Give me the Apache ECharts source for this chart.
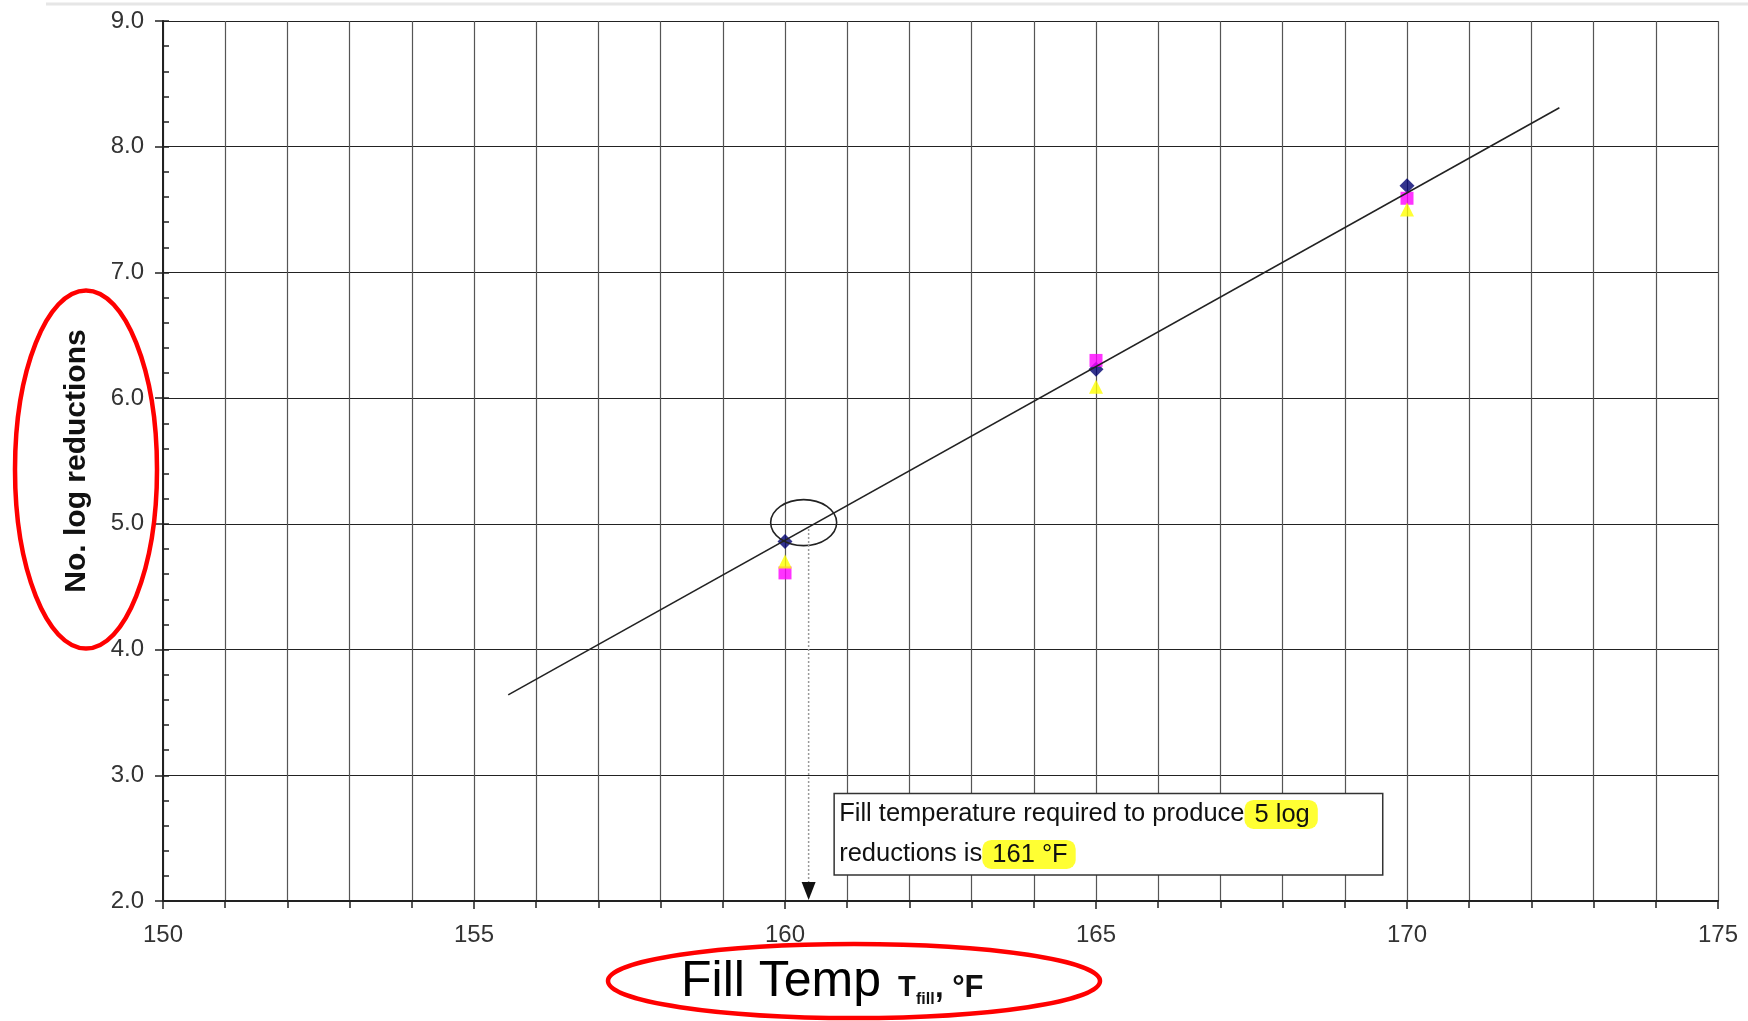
<!DOCTYPE html>
<html><head><meta charset="utf-8">
<script src="https://cdn.jsdelivr.net/npm/echarts@6/dist/echarts.min.js"></script>
<style>html,body{margin:0;padding:0;background:#fff}#c{width:1748px;height:1021px}</style>
</head><body><div id="c"></div>
<script>
// ---- data ----
const temperatures = [160, 165, 170];
const seriesDiamond = [4.86, 6.23, 7.69];
const seriesSquare = [4.61, 6.30, 7.59];
const seriesTriangle = [4.70, 6.09, 7.50];
const trendX = [155.55, 172.45];
const trendY = [3.64, 8.31];
const xTickValues = [150, 155, 160, 165, 170, 175];
const yTickValues = [2, 3, 4, 5, 6, 7, 8, 9];
const targetLog = 5.0;
const fillTempAtTarget = 160.38;
const calloutBox = [160.79, 169.61, 2.856, 2.206]; // x0, x1, yTop, yBottom (data units)
const calloutLine1 = 'Fill temperature required to produce';
const calloutHL1 = '5 log';
const calloutLine2 = 'reductions is';
const calloutHL2 = '161 °F';
const yTitle = 'No. log reductions';
const xTitleMain = 'Fill Temp';
const xTitleSym = 'T';
const xTitleSub = 'fill';
const xTitleUnit = ', °F';

const FONT = '"Liberation Sans", Arial, sans-serif';
const chart = echarts.init(document.getElementById('c'), null, {renderer: 'canvas'});

const pairs = arr => temperatures.map((t, i) => [t, arr[i]]);

chart.setOption({
  animation: false,
  backgroundColor: '#fff',
  grid: {left: 163, top: 21, right: 30, bottom: 120, containLabel: false},
  xAxis: {
    type: 'value', min: xTickValues[0], max: xTickValues[xTickValues.length - 1], interval: 5,
    axisLine: {show: true, onZero: false, lineStyle: {color: '#222', width: 2}},
    axisTick: {show: true, length: 8, lineStyle: {color: '#222', width: 1.5}},
    minorTick: {show: true, splitNumber: 5, length: 7, lineStyle: {color: '#222', width: 1.5}},
    axisLabel: {fontSize: 24, color: '#333', margin: 22, fontFamily: FONT},
    splitLine: {show: true, lineStyle: {color: '#555', width: 1.2}},
    minorSplitLine: {show: true, lineStyle: {color: '#555', width: 1.2}}
  },
  yAxis: [{
    type: 'value', min: yTickValues[0], max: yTickValues[yTickValues.length - 1], interval: 1,
    position: 'left',
    axisLine: {show: true, lineStyle: {color: '#222', width: 2}},
    axisTick: {show: true, inside: true, length: 6, lineStyle: {color: '#222', width: 1.5}},
    minorTick: {show: true, splitNumber: 5, length: 6, lineStyle: {color: '#222', width: 1.5}},
    axisLabel: {formatter: v => v.toFixed(1), fontSize: 24, color: '#333', margin: 19, fontFamily: FONT},
    splitLine: {show: true, lineStyle: {color: '#222', width: 1.2}},
    name: yTitle, nameLocation: 'middle', nameGap: 71,
    nameTextStyle: {fontSize: 30, fontWeight: 'bold', color: '#111', fontFamily: FONT}
  }, {
    type: 'value', min: yTickValues[0], max: yTickValues[yTickValues.length - 1], interval: 1,
    position: 'left', offset: 0,
    axisLine: {show: false},
    axisTick: {show: true, inside: false, length: 8, lineStyle: {color: '#222', width: 1.5}},
    axisLabel: {show: false}, splitLine: {show: false}
  }],
  series: [
    {type: 'scatter', name: 'A', data: pairs(seriesDiamond), symbol: 'diamond', symbolSize: 15,
     itemStyle: {color: '#000070'}, z: 3},
    {type: 'scatter', name: 'B', data: pairs(seriesSquare), symbol: 'rect', symbolSize: 13,
     itemStyle: {color: '#ff00ff'}, z: 4},
    {type: 'scatter', name: 'C', data: pairs(seriesTriangle), symbol: 'triangle', symbolSize: 14,
     itemStyle: {color: '#ffff00'}, z: 5},
    {type: 'line', name: 'trend', data: trendX.map((x, i) => [x, trendY[i]]), showSymbol: false,
     symbol: 'none', lineStyle: {color: '#222', width: 1.6}, z: 6}
  ]
});

const P = (x, y) => chart.convertToPixel({gridIndex: 0}, [x, y]);
const ell = P(160.3, targetLog + 0.01);
const dTop = P(fillTempAtTarget, targetLog - 0.04);
const dBot = P(fillTempAtTarget, yTickValues[0]);
const b0 = P(calloutBox[0], calloutBox[2]);
const b1 = P(calloutBox[1], calloutBox[3]);
const hl = {backgroundColor: '#ffff33', borderRadius: 9, padding: [2, 8, 1, 10],
            fontSize: 25.5, fontFamily: FONT, color: '#111'};

chart.setOption({
  graphic: [
    {type: 'line', shape: {x1: 46, y1: 4, x2: 1748, y2: 4}, style: {stroke: '#e6e6e6', lineWidth: 3}, z: 10},
    {type: 'ellipse', shape: {cx: ell[0], cy: ell[1], rx: 33, ry: 23},
     style: {fill: null, stroke: '#222', lineWidth: 1.6}, z: 20},
    {type: 'line', shape: {x1: dTop[0], y1: dTop[1], x2: dBot[0], y2: dBot[1] - 18},
     style: {stroke: '#999', lineWidth: 1.5, lineDash: [2, 2]}, z: 20},
    {type: 'polygon', shape: {points: [[dBot[0] - 7, dBot[1] - 19], [dBot[0] + 7, dBot[1] - 19], [dBot[0], dBot[1] - 1]]},
     style: {fill: '#111'}, z: 21},
    {type: 'rect', shape: {x: b0[0], y: b0[1], width: b1[0] - b0[0], height: b1[1] - b0[1]},
     style: {fill: '#fff', stroke: '#333', lineWidth: 1.5}, z: 20},
    {type: 'text', x: b0[0] + 5, y: b0[1] + 1, z: 21,
     style: {
       text: calloutLine1 + '{hl|' + calloutHL1 + '}\n' + calloutLine2 + '{hl|' + calloutHL2 + '}',
       fontSize: 25.5, fontFamily: FONT, fill: '#111', lineHeight: 40, verticalAlign: 'top', align: 'left',
       rich: {hl: hl}
     }},
    // x-axis title
    {type: 'text', x: 681, y: 982.7, z: 21,
     style: {text: xTitleMain, fontSize: 50, fontFamily: FONT, fill: '#000', verticalAlign: 'middle', align: 'left'}},
    {type: 'text', x: 898, y: 988.3, z: 21,
     style: {text: xTitleSym, fontSize: 29, fontWeight: 'bold', fontFamily: FONT, fill: '#111', verticalAlign: 'middle', align: 'left'}},
    {type: 'text', x: 916, y: 999.5, z: 21,
     style: {text: xTitleSub, fontSize: 16, fontWeight: 'bold', fontFamily: FONT, fill: '#111', verticalAlign: 'middle', align: 'left'}},
    {type: 'text', x: 935, y: 988.3, z: 21,
     style: {text: xTitleUnit, fontSize: 31, fontWeight: 'bold', fontFamily: FONT, fill: '#111', verticalAlign: 'middle', align: 'left'}},
    // red highlight ellipses
    {type: 'ellipse', shape: {cx: 86, cy: 469.5, rx: 71, ry: 179},
     style: {fill: null, stroke: '#ff0000', lineWidth: 4.5}, z: 30},
    {type: 'ellipse', shape: {cx: 854, cy: 981, rx: 246, ry: 37},
     style: {fill: null, stroke: '#ff0000', lineWidth: 4.5}, z: 30}
  ]
});
</script>
</body></html>
